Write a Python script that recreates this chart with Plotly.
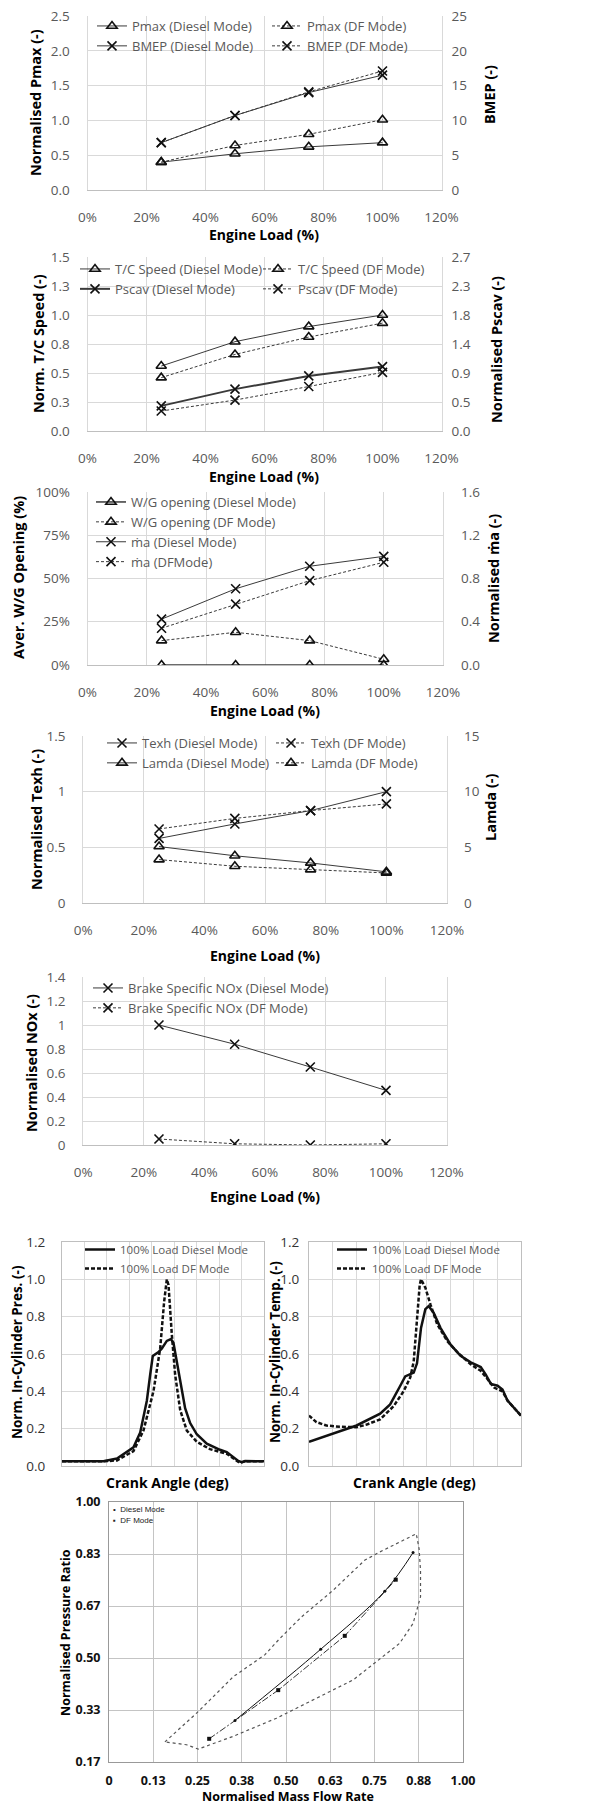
import plotly.graph_objects as go

W, H = 609, 1804


def fx(px):
    return px / W


def fy(py):
    return 1 - py / H


FONT = "'Open Sans', Lato, sans-serif"
TICK_C = "#595959"
GRID_C = "#d9d9d9"
LINE_C = "#bfbfbf"
INK = "#111111"
SER = "#3a3a3a"

# ---------------- data ----------------
load = [0.25, 0.50, 0.75, 1.00]

pmax_diesel = [0.40, 0.52, 0.62, 0.68]
pmax_df = [0.40, 0.64, 0.80, 1.01]
bmep_diesel = [6.8, 10.7, 14.0, 16.5]
bmep_df = [6.8, 10.7, 14.1, 17.1]

tc_speed_diesel = [0.56, 0.77, 0.90, 1.00]
tc_speed_df = [0.46, 0.66, 0.81, 0.93]
pscav_diesel = [0.39, 0.65, 0.855, 1.00]
pscav_df = [0.31, 0.48, 0.69, 0.91]
tc_ticks = [0, 0.25, 0.5, 0.75, 1.0, 1.25, 1.5]
tc_tick_text = ["0.0", "0.3", "0.5", "0.8", "1.0", "1.3", "1.5"]
pscav_ticks = [0, 0.45, 0.9, 1.35, 1.8, 2.25, 2.7]
pscav_tick_text = ["0.0", "0.5", "0.9", "1.4", "1.8", "2.3", "2.7"]

wg_diesel = [0.0, 0.0, 0.0, 0.0]
wg_df = [0.141, 0.189, 0.141, 0.033]
ma_diesel = [0.424, 0.705, 0.913, 1.005]
ma_df = [0.34, 0.563, 0.78, 0.95]

texh_diesel = [0.58, 0.71, 0.83, 1.00]
texh_df = [0.665, 0.76, 0.83, 0.89]
lamda_diesel = [5.07, 4.24, 3.6, 2.8]
lamda_df = [3.9, 3.3, 3.0, 2.7]

nox_diesel = [1.00, 0.84, 0.65, 0.455]
nox_df = [0.05, 0.01, 0.0, 0.01]

# in-cylinder pressure (crank angle in deg)
pres_angle_diesel = [-90, -53, -41, -26.3, -20.3, -14.4, -11.4, -9.1, -4.0, -1.0, 3.4, 7.0,
                     9.3, 12.3, 15.3, 19.7, 24.2, 30.1, 39.0, 50.8, 56.8, 62.7, 67.1, 70.1, 73.1, 90]
pres_diesel = [0.025, 0.025, 0.04, 0.10, 0.18, 0.35, 0.49, 0.59, 0.61, 0.63, 0.67, 0.68,
               0.66, 0.56, 0.44, 0.31, 0.23, 0.17, 0.12, 0.087, 0.075, 0.048, 0.027, 0.021, 0.027, 0.025]
pres_angle_df = [-90, -53, -41, -26.3, -17.4, -8.5, -2.5, 1.0, 3.4, 4.9, 7.8, 10.8,
                 15.3, 21.2, 30.1, 41.9, 56.8, 62.7, 68.6, 73.1, 90]
pres_df = [0.025, 0.025, 0.03, 0.08, 0.19, 0.40, 0.63, 0.88, 1.00, 0.97, 0.71, 0.49,
           0.30, 0.19, 0.13, 0.09, 0.066, 0.04, 0.016, 0.025, 0.025]

# in-cylinder temperature
temp_angle_diesel = [-90, -49.6, -29.6, -21.1, -12.5, -8.3, -1.1, 1.7, 5.1, 8.8, 11.6, 15.9,
                     21.6, 30.2, 38.7, 47.3, 55.8, 60.1, 64.4, 70.1, 74.3, 78.6, 85.7, 90]
temp_diesel = [0.13, 0.217, 0.28, 0.33, 0.43, 0.48, 0.50, 0.55, 0.74, 0.84, 0.857, 0.82,
               0.74, 0.65, 0.59, 0.555, 0.53, 0.49, 0.44, 0.43, 0.41, 0.35, 0.30, 0.27]
temp_angle_df = [-90, -83.7, -75.2, -63.8, -49.6, -41.0, -29.6, -18.2, -9.7, -4.0, -1.1, 1.7,
                 4.0, 5.1, 8.8, 13.1, 18.8, 27.3, 35.9, 47.3, 55.8, 61.5, 67.2, 74.3, 78.6, 85.7, 90]
temp_df = [0.27, 0.235, 0.217, 0.21, 0.208, 0.222, 0.25, 0.32, 0.40, 0.475, 0.56, 0.79,
           0.97, 1.00, 0.955, 0.866, 0.76, 0.67, 0.61, 0.545, 0.51, 0.466, 0.42, 0.40, 0.35, 0.30, 0.27]

# compressor map
env_mfr = [0.158, 0.252, 0.351, 0.440, 0.483, 0.544, 0.633, 0.722, 0.765, 0.868, 0.876, 0.880,
           0.880, 0.859, 0.821, 0.784, 0.737, 0.690, 0.624, 0.539, 0.473, 0.351, 0.252, 0.219,
           0.191, 0.158]
env_pr = [0.231, 0.328, 0.440, 0.510, 0.563, 0.632, 0.717, 0.813, 0.840, 0.898, 0.850, 0.781,
          0.696, 0.611, 0.547, 0.515, 0.472, 0.430, 0.392, 0.345, 0.307, 0.249, 0.208, 0.222,
          0.227, 0.231]
diesel_mfr = [0.356, 0.598, 0.779, 0.859]
diesel_pr = [0.300, 0.528, 0.714, 0.838]
df_mfr = [0.283, 0.478, 0.666, 0.810]
df_pr = [0.241, 0.397, 0.571, 0.751]
map_x_ticks = [0, 0.125, 0.25, 0.375, 0.5, 0.625, 0.75, 0.875, 1.0]
map_x_text = ["0", "0.13", "0.25", "0.38", "0.50", "0.63", "0.75", "0.88", "1.00"]
map_y_ticks = [1 / 6, 2 / 6, 3 / 6, 4 / 6, 5 / 6, 1.0]
map_y_text = ["0.17", "0.33", "0.50", "0.67", "0.83", "1.00"]

fig = go.Figure()


def series(x, y, name, xa, ya, dash, symbol, legend, width=1.0):
    fig.add_trace(go.Scatter(
        x=x, y=y, name=name, xaxis=xa, yaxis=ya, mode="lines+markers",
        line=dict(color=SER, width=width, dash=dash),
        marker=dict(symbol=symbol, size=9, color=INK, line=dict(width=1.6, color=INK)),
        legend=legend))


SOLID = "solid"
DASH = "3px,2px"
TRI = "triangle-up-open"
XM = "x-thin"

# Panel 1
series(load, pmax_diesel, "Pmax (Diesel Mode)", "x", "y", SOLID, TRI, "legend")
series(load, bmep_diesel, "BMEP (Diesel Mode)", "x", "y2", SOLID, XM, "legend")
series(load, pmax_df, "Pmax (DF Mode)", "x", "y", DASH, TRI, "legend2")
series(load, bmep_df, "BMEP (DF Mode)", "x", "y2", DASH, XM, "legend2")
# Panel 2
series(load, tc_speed_diesel, "T/C Speed (Diesel Mode)", "x2", "y3", SOLID, TRI, "legend3")
series(load, pscav_diesel, "Pscav (Diesel Mode)", "x2", "y4", SOLID, XM, "legend3", width=2)
series(load, tc_speed_df, "T/C Speed (DF Mode)", "x2", "y3", DASH, TRI, "legend4")
series(load, pscav_df, "Pscav (DF Mode)", "x2", "y4", DASH, XM, "legend4")
# Panel 3
series(load, wg_diesel, "W/G opening (Diesel Mode)", "x3", "y5", SOLID, TRI, "legend5", width=1.5)
series(load, wg_df, "W/G opening (DF Mode)", "x3", "y5", DASH, TRI, "legend5")
series(load, ma_diesel, "ṁa (Diesel Mode)", "x3", "y6", SOLID, XM, "legend5")
series(load, ma_df, "ṁa (DFMode)", "x3", "y6", DASH, XM, "legend5")
# Panel 4
series(load, texh_diesel, "Texh (Diesel Mode)", "x4", "y7", SOLID, XM, "legend6")
series(load, lamda_diesel, "Lamda (Diesel Mode)", "x4", "y8", SOLID, TRI, "legend6")
series(load, texh_df, "Texh (DF Mode)", "x4", "y7", DASH, XM, "legend7")
series(load, lamda_df, "Lamda (DF Mode)", "x4", "y8", DASH, TRI, "legend7")
# Panel 5
series(load, nox_diesel, "Brake Specific NOx (Diesel Mode)", "x5", "y9", SOLID, XM, "legend8")
series(load, nox_df, "Brake Specific NOx (DF Mode)", "x5", "y9", DASH, XM, "legend8")

# Panel 6
for xa, ya, lg, (xd, yd, xf, yf) in [
    ("x6", "y10", "legend9", (pres_angle_diesel, pres_diesel, pres_angle_df, pres_df)),
    ("x7", "y11", "legend10", (temp_angle_diesel, temp_diesel, temp_angle_df, temp_df)),
]:
    fig.add_trace(go.Scatter(x=xd, y=yd, name="100% Load Diesel Mode", xaxis=xa, yaxis=ya,
                             mode="lines", line=dict(color="#111", width=2.5), legend=lg))
    fig.add_trace(go.Scatter(x=xf, y=yf, name="100% Load DF Mode", xaxis=xa, yaxis=ya,
                             mode="lines", line=dict(color="#111", width=2.5, dash="4px,2px"),
                             legend=lg))

# Panel 7
fig.add_trace(go.Scatter(x=env_mfr, y=env_pr, xaxis="x8", yaxis="y12", mode="lines",
                         line=dict(color="#555", width=1.2, dash="dot"), showlegend=False))
fig.add_trace(go.Scatter(x=df_mfr, y=df_pr, xaxis="x8", yaxis="y12", mode="lines+markers",
                         line=dict(color="#333", width=1, dash="7px,2px,2px,2px"),
                         marker=dict(symbol="square", size=4, color="#111"), showlegend=False))
fig.add_trace(go.Scatter(x=diesel_mfr, y=diesel_pr, xaxis="x8", yaxis="y12", mode="lines+markers",
                         line=dict(color="#111", width=1, shape="spline"),
                         marker=dict(symbol="circle", size=3, color="#111"), showlegend=False))

layout = dict(width=W, height=H, margin=dict(l=0, r=0, t=0, b=0, autoexpand=False),
              paper_bgcolor="white", plot_bgcolor="white", font=dict(family=FONT),
              showlegend=True)

tickfont = dict(family=FONT, size=13.5, color=TICK_C)


def xload(key, x0, x1, anchor):
    layout[key] = dict(domain=[fx(x0), fx(x1)], range=[0, 1.2], tick0=0, dtick=0.2,
                       tickformat=".0%", showgrid=True, gridcolor=GRID_C, gridwidth=1,
                       showline=True, linecolor=LINE_C, zeroline=False, ticks="",
                       ticklabelstandoff=15, tickfont=tickfont, anchor=anchor, fixedrange=True)


def yleft(key, y0, y1, anchor, standoff=14, **kw):
    d = dict(domain=[fy(y1), fy(y0)], showgrid=True, gridcolor=GRID_C, gridwidth=1,
             showline=True, linecolor=GRID_C, mirror=True, zeroline=False, ticks="",
             ticklabelstandoff=standoff, tickfont=tickfont, anchor=anchor, fixedrange=True)
    d.update(kw)
    layout[key] = d


def yright(key, over, anchor, standoff=9, **kw):
    d = dict(overlaying=over, side="right", showgrid=False, showline=False, zeroline=False,
             ticks="", ticklabelstandoff=standoff, tickfont=tickfont, anchor=anchor,
             fixedrange=True)
    d.update(kw)
    layout[key] = d


# Panel 1
xload("xaxis", 87.5, 441.5, "y")
yleft("yaxis", 16, 190, "x", range=[0, 2.5], dtick=0.5, tickformat=".1f")
yright("yaxis2", "y", "x", range=[0, 25], dtick=5)
# Panel 2
xload("xaxis2", 87.5, 441.5, "y3")
yleft("yaxis3", 257, 431, "x2", range=[0, 1.5], tickvals=tc_ticks, ticktext=tc_tick_text)
yright("yaxis4", "y3", "x2", range=[0, 2.7], tickvals=pscav_ticks, ticktext=pscav_tick_text)
# Panel 3
xload("xaxis3", 87.5, 443, "y5")
yleft("yaxis5", 492, 665, "x3", range=[0, 1.0], dtick=0.25, tickformat=".0%")
yright("yaxis6", "y5", "x3", standoff=17, range=[0, 1.6], dtick=0.4, tickformat=".1f")
# Panel 4
xload("xaxis4", 83.3, 447, "y7")
yleft("yaxis7", 736, 903, "x4", range=[0, 1.5], dtick=0.5)
yright("yaxis8", "y7", "x4", standoff=16, range=[0, 15], dtick=5)
# Panel 5
xload("xaxis5", 83.3, 446.5, "y9")
yleft("yaxis9", 977, 1145, "x5", range=[0, 1.4], dtick=0.2)

# Panel 6
p6font = dict(family=FONT, size=13.5, color="#333")
for xk, yk, xr, yr, x0, x1, so in [("xaxis6", "yaxis10", "x6", "y10", 62, 264, 13),
                                     ("xaxis7", "yaxis11", "x7", "y11", 309, 521, 6)]:
    layout[xk] = dict(domain=[fx(x0), fx(x1)], range=[-90, 90], tick0=-90, dtick=20,
                      showticklabels=False, showgrid=True, gridcolor=GRID_C, showline=True,
                      linecolor=LINE_C, mirror=True, zeroline=False, ticks="", anchor=yr,
                      fixedrange=True)
    layout[yk] = dict(domain=[fy(1466), fy(1242)], range=[0, 1.2], dtick=0.2, tickformat=".1f",
                      showgrid=True, gridcolor=GRID_C, showline=True, linecolor=LINE_C,
                      mirror=True, zeroline=False, ticks="", ticklabelstandoff=so,
                      tickfont=p6font, anchor=xr, fixedrange=True)

# Panel 7
p7font = dict(family=FONT, size=12.5, color="#111", weight="bold")
layout["xaxis8"] = dict(domain=[fx(109), fx(463)], range=[0, 1], tickvals=map_x_ticks,
                        ticktext=map_x_text, showgrid=True, gridcolor="#c4c4c4", showline=True,
                        linecolor="#999", mirror=True, zeroline=False, ticks="",
                        ticklabelstandoff=7, tickfont=p7font, anchor="y12", fixedrange=True)
layout["yaxis12"] = dict(domain=[fy(1762), fy(1502)], range=[1 / 6, 1], tickvals=map_y_ticks,
                         ticktext=map_y_text, showgrid=True, gridcolor="#c4c4c4", showline=True,
                         linecolor="#999", mirror=True, zeroline=False, ticks="",
                         ticklabelstandoff=5, tickfont=p7font, anchor="x8", fixedrange=True)


# Legends
def legend(key, x, y, size=13):
    layout[key] = dict(x=fx(x), y=fy(y), xanchor="left", yanchor="top", orientation="v",
                       bgcolor="rgba(0,0,0,0)", borderwidth=0, itemwidth=30, tracegroupgap=0,
                       font=dict(family=FONT, size=size, color=TICK_C), itemclick=False,
                       itemdoubleclick=False)


legend("legend", 92, 11)
legend("legend2", 267, 11)
legend("legend3", 75, 254)
legend("legend4", 258, 254)
legend("legend5", 91, 487)
legend("legend6", 102, 728)
legend("legend7", 271, 728)
legend("legend8", 88, 973)
legend("legend9", 80, 1235, size=11.5)
legend("legend10", 332, 1235, size=11.5)


# Annotations (axis titles, map legend)
def ann(text, x, y, size=14, angle=0, color="black", xanchor="center", family=FONT):
    return dict(text=text, x=fx(x), y=fy(y), xref="paper", yref="paper", showarrow=False,
                textangle=angle, xanchor=xanchor, yanchor="middle",
                font=dict(family=family, size=size, color=color))


anns = [
    ann("<b>Engine Load (%)</b>", 264, 235),
    ann("<b>Normalised Pmax (-)</b>", 35, 103, size=14.5, angle=-90),
    ann("<b>BMEP (-)</b>", 490, 95, size=14.5, angle=-90),
    ann("<b>Engine Load (%)</b>", 264, 476),
    ann("<b>Norm. T/C Speed (-)</b>", 38, 344, size=14.5, angle=-90),
    ann("<b>Normalised Pscav (-)</b>", 497, 350, size=14.5, angle=-90),
    ann("<b>Engine Load (%)</b>", 265, 711),
    ann("<b>Aver. W/G Opening (%)</b>", 19, 578, size=14.5, angle=-90),
    ann("<b>Normalised ṁa (-)</b>", 493, 579, size=14.5, angle=-90),
    ann("<b>Engine Load (%)</b>", 265, 955),
    ann("<b>Normalised Texh (-)</b>", 36, 820, size=14.5, angle=-90),
    ann("<b>Lamda (-)</b>", 490, 808, size=14.5, angle=-90),
    ann("<b>Engine Load (%)</b>", 265, 1196),
    ann("<b>Normalised NOx (-)</b>", 31, 1063, size=14.5, angle=-90),
    ann("<b>Crank Angle (deg)</b>", 167, 1482),
    ann("<b>Crank Angle (deg)</b>", 415, 1482),
    ann("<b>Norm. In-Cylinder Pres. (-)</b>", 17, 1352, size=13.5, angle=-90),
    ann("<b>Norm. In-Cylinder Temp. (-)</b>", 275, 1352, size=13.5, angle=-90),
    ann("<b>Normalised Mass Flow Rate</b>", 288, 1796, size=12.5),
    ann("<b>Normalised Pressure Ratio</b>", 65, 1633, size=12.5, angle=-90),
    ann("•  Diesel Mode", 111, 1509, size=8, color="#222", xanchor="left",
        family="'Liberation Sans', Arial, sans-serif"),
    ann("▪  DF Mode", 111, 1520, size=8, color="#222", xanchor="left",
        family="'Liberation Sans', Arial, sans-serif"),
]
layout["annotations"] = anns

fig.update_layout(**layout)
fig.write_html(
    "out.html",
    config={"displayModeBar": False},
    post_script="document.body.style.margin='0px';document.body.style.padding='0px';"
                "document.body.style.overflow='hidden';",
)
